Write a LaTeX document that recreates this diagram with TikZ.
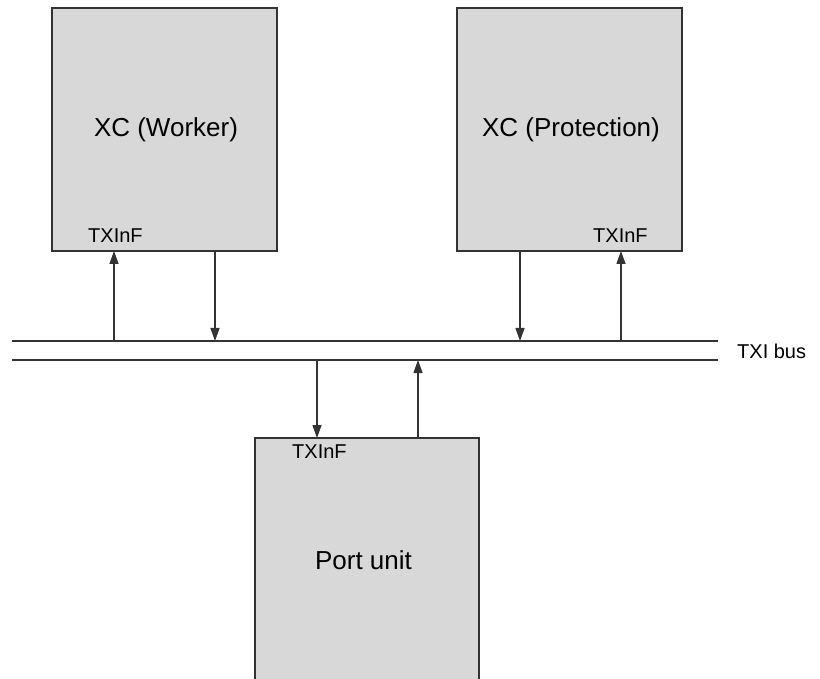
\documentclass[tikz,border=0pt]{standalone}
\usepackage{fontspec}
\setmainfont{Liberation Sans}
\usetikzlibrary{arrows.meta}
\definecolor{boxfill}{HTML}{D8D8D8}
\definecolor{inkline}{HTML}{333333}
\begin{document}
\begin{tikzpicture}[x=1pt,y=-1pt,
  unitbox/.style={draw=inkline,fill=boxfill,line width=1.3pt},
  busline/.style={draw=inkline,line width=1.3pt},
  sig/.style={draw=inkline,line width=1.3pt,-{Triangle[length=13pt,width=9pt]}},
  bigtext/.style={font=\fontsize{26}{30}\selectfont,anchor=base,inner sep=0pt},
  smalltext/.style={font=\fontsize{20}{24}\selectfont,anchor=base west,inner sep=0pt}]
\useasboundingbox (0,0) rectangle (820,679);
\begin{scope}
\clip (0,0) rectangle (820,679);
% cross-connect units and the port unit
\path[unitbox] (52,8) rectangle (277,251);
\path[unitbox] (457,8) rectangle (682,251);
\path[unitbox] (255,438) rectangle (479,700);
\end{scope}
\node[bigtext] (wk) at (166,137) {XC (Worker)};
\node[bigtext] (pr) at (571,137) {XC (Protection)};
\node[bigtext] (pu) at (363.5,569) {Port unit};
\node[smalltext] (wkif) at (88,243) {TXInF};
\node[smalltext] (prif) at (593,243) {TXInF};
\node[smalltext] (puif) at (292,458) {TXInF};
% TXI bus
\coordinate (busTl) at (12,341);
\coordinate (busTr) at (718,341);
\coordinate (busBl) at (12,360);
\coordinate (busBr) at (718,360);
\draw[busline] (busTl) -- (busTr);
\draw[busline] (busBl) -- (busBr);
\node[smalltext] (bus) at (737,359) {TXI bus};
% bus taps
\coordinate (a1b) at (114,341); \coordinate (a1t) at (114,251);
\coordinate (a2b) at (215,341); \coordinate (a2t) at (215,251);
\coordinate (a3b) at (520,341); \coordinate (a3t) at (520,251);
\coordinate (a4b) at (621,341); \coordinate (a4t) at (621,251);
\coordinate (a5t) at (317,360); \coordinate (a5b) at (317,438);
\coordinate (a6t) at (418,360); \coordinate (a6b) at (418,438);
\draw[sig] (a1b) -- (a1t);
\draw[sig] (a2t) -- (a2b);
\draw[sig] (a3t) -- (a3b);
\draw[sig] (a4b) -- (a4t);
\draw[sig] (a5t) -- (a5b);
\draw[sig] (a6b) -- (a6t);
\end{tikzpicture}
\end{document}
